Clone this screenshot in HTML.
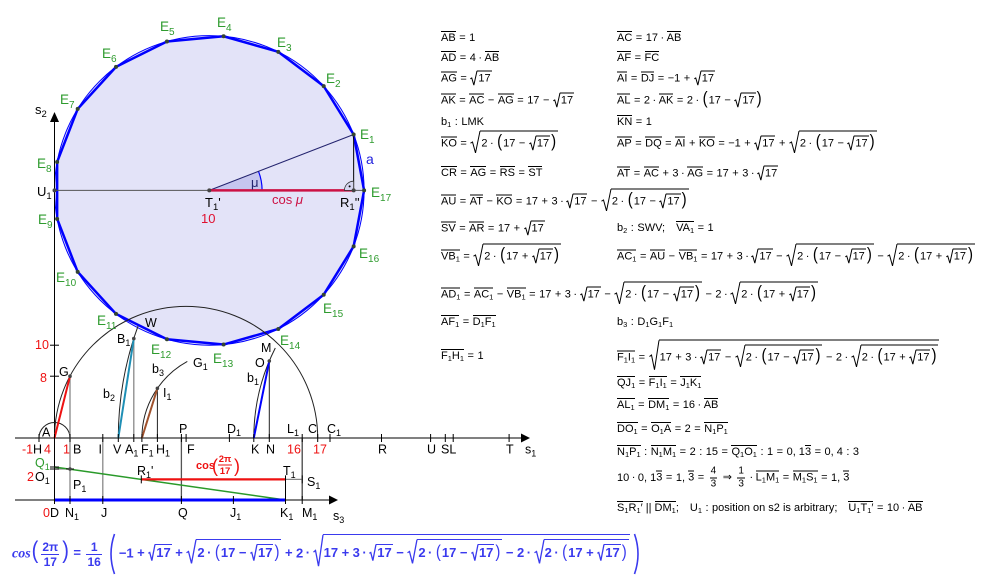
<!DOCTYPE html>
<html><head><meta charset="utf-8"><style>
body{margin:0;width:990px;height:588px;overflow:hidden;background:#fff;position:relative;font-family:"Liberation Sans","DejaVu Sans",sans-serif}
svg.main{position:absolute;left:0;top:0}
.f{position:absolute;white-space:nowrap;font-size:11px;line-height:14px;color:#000;transform:translateY(-50%)}
.ov{display:inline-block;border-top:1px solid currentColor;line-height:12px}
sub{font-size:7.5px;vertical-align:-2px;line-height:0}
i{font-style:normal;padding:0 3.5px}
i.d{padding:0 2.5px}
.r{display:inline-block;position:relative;padding-left:7px}
.r>svg{position:absolute;left:0;top:0;width:7px;height:100%;overflow:visible}
.r>svg path{fill:none;stroke:currentColor;stroke-width:1;vector-effect:non-scaling-stroke}
.r>span{display:inline-block;border-top:1px solid currentColor;padding:0 1px}
.r.R{padding-left:10px}
.r.R>svg{width:10px}
.r.R>span{padding:4px 1px 3px 1px}
.bp{display:inline-block;font-size:15px;line-height:14px;transform:scaleY(1.15);padding:0 1px;font-weight:normal}
.fr{display:inline-block;vertical-align:middle;text-align:center;font-size:10px;line-height:12px;margin:0 2px}
.fr>span{display:block;padding:0 1px}
.fr>span:first-child{border-bottom:1px solid currentColor}
#bf{font-size:13px;font-weight:bold;color:#3a3aee;line-height:16px}
#bf .r>svg path{stroke-width:1.3}
.bq{display:inline-block;font-size:20px;line-height:16px;transform:scaleY(1.2);font-weight:normal;padding:0 1px}
.hp{display:inline-block;vertical-align:middle;margin:0 3px}
.fb{font-size:12px;line-height:14px;font-weight:bold}
</style></head><body>
<svg class="main" width="990" height="588" viewBox="0 0 990 588" font-family="Liberation Sans, DejaVu Sans, sans-serif">
<circle cx="209.3" cy="190.4" r="154.8" fill="#e3e3f8" stroke="#0000ff" stroke-width="1"/>
<polygon points="353.65,134.48 323.70,86.11 278.30,51.83 223.58,36.26 166.94,41.51 116.01,66.87 77.69,108.91 57.14,161.96 57.14,218.84 77.69,271.89 116.01,313.93 166.94,339.29 223.58,344.54 278.30,328.97 323.70,294.69 353.65,246.32 364.10,190.4" fill="none" stroke="#0000ff" stroke-width="2.5" stroke-linejoin="round"/>
<line x1="54.5" y1="190.4" x2="364.1" y2="190.4" stroke="#555" stroke-width="1"/>
<path d="M209.3,190.4 L262.1,190.4 A52.8,52.8 0 0 0 258.5,171.3 Z" fill="#c6c6ef"/>
<path d="M262.1,190.4 A52.8,52.8 0 0 0 258.5,171.3" fill="none" stroke="#0000ff" stroke-width="1.2"/>
<line x1="209.3" y1="190.4" x2="353.65" y2="134.48" stroke="#23236e" stroke-width="1"/>
<line x1="353.65" y1="190.4" x2="353.65" y2="134.48" stroke="#000" stroke-width="1"/>
<line x1="209.3" y1="190.4" x2="353.65" y2="190.4" stroke="#cc1144" stroke-width="2.5"/>
<path d="M344.4,190.4 A9.2,9.2 0 0 1 353.65,181.2 L353.65,190.4 Z" fill="#d5d5f0" stroke="#333" stroke-width="0.8"/>
<circle cx="349.6" cy="186.4" r="1" fill="#000"/>
<line x1="54.5" y1="121" x2="54.5" y2="502" stroke="#000" stroke-width="1"/>
<polygon points="54.5,112 50,122 59,122" fill="#000"/>
<line x1="15" y1="438" x2="522" y2="438" stroke="#000" stroke-width="1"/>
<polygon points="530,438 521,433.5 521,442.5" fill="#000"/>
<line x1="15" y1="500" x2="330" y2="500" stroke="#000" stroke-width="1"/>
<polygon points="338,500 329,495.5 329,504.5" fill="#000"/>
<g stroke="#000" stroke-width="1">
<line x1="50" y1="376.2" x2="59" y2="376.2"/><line x1="50" y1="345.2" x2="59" y2="345.2"/>
</g>
<g fill="none" stroke="#222" stroke-width="1">
<path d="M54.5,438 A131.6,131.6 0 0 1 317.7,438"/>
<path d="M39,438 A15.5,15.5 0 0 1 70,438"/>
<path d="M253.8,438 A199.4,199.4 0 0 1 275.3,348"/>
<path d="M118.3,438 A327,327 0 0 1 138,326.2"/>
<path d="M141.9,438 A87.4,87.4 0 0 1 187.3,361.4"/>
</g>
<g stroke-width="1.3">
<line x1="70" y1="376.2" x2="70" y2="500" stroke="#888"/>
<line x1="102.8" y1="438" x2="102.8" y2="500" stroke="#888"/>
<line x1="133.8" y1="338.6" x2="133.8" y2="438" stroke="#888"/>
<line x1="157.4" y1="388.3" x2="157.4" y2="438" stroke="#222" stroke-width="1"/>
<line x1="181.4" y1="438" x2="181.4" y2="500" stroke="#555"/>
<line x1="269.3" y1="361" x2="269.3" y2="438" stroke="#222" stroke-width="1"/>
<line x1="302.2" y1="438" x2="302.2" y2="500" stroke="#444"/>
<line x1="285.5" y1="479.4" x2="285.5" y2="500" stroke="#000" stroke-width="1"/>
</g>
<line x1="54.5" y1="438" x2="70" y2="376.2" stroke="#ee1111" stroke-width="2"/>
<line x1="118.3" y1="438" x2="133.8" y2="338.6" stroke="#1f8fb5" stroke-width="2"/>
<line x1="141.9" y1="438" x2="157.4" y2="388.3" stroke="#a0522d" stroke-width="2"/>
<line x1="253.8" y1="438" x2="269.3" y2="361" stroke="#0000ff" stroke-width="2"/>
<line x1="54.5" y1="469" x2="70" y2="469" stroke="#888" stroke-width="1.2"/>
<line x1="285.5" y1="479.4" x2="302.2" y2="479.4" stroke="#888" stroke-width="1.2"/>
<line x1="54.5" y1="467" x2="285.5" y2="500" stroke="#2a9a2a" stroke-width="1.5"/>
<line x1="141.3" y1="479.4" x2="285.5" y2="479.4" stroke="#ee1111" stroke-width="2.2"/>
<line x1="54.5" y1="500" x2="285.5" y2="500" stroke="#0000ff" stroke-width="3"/>
<g stroke="#000" stroke-width="1">
<path d="M39,434V442 M54.5,434V442 M70,434V442 M102.8,434V442 M118.3,434V442 M133.8,434V442 M141.9,434V442 M157.4,434V442 M181.4,434V442 M186.1,434V442 M229.4,434V442 M253.8,434V442 M269.3,434V442 M302.2,434V442 M317.7,434V442 M330,434V442 M381.5,434V442 M430.6,434V442 M445.3,434V442 M453.2,434V442 M509.1,434V442"/>
<path d="M54.5,496V504 M70,496V504 M102.8,496V504 M181.4,496V504 M233.4,496V504 M285.5,496V504 M302.2,496V504"/>
<path d="M141.3,475.4V483.4 M285.5,475.4V483.4 M302.2,475.4V483.4 M66,469H74 M50,469H59 M50,467H59"/>
</g>
<g fill="#334433">
<circle cx="353.65" cy="134.48" r="2"/><circle cx="323.70" cy="86.11" r="2"/><circle cx="278.30" cy="51.83" r="2"/><circle cx="223.58" cy="36.26" r="2"/><circle cx="166.94" cy="41.51" r="2"/><circle cx="116.01" cy="66.87" r="2"/><circle cx="77.69" cy="108.91" r="2"/><circle cx="57.14" cy="161.96" r="2"/><circle cx="57.14" cy="218.84" r="2"/><circle cx="77.69" cy="271.89" r="2"/><circle cx="116.01" cy="313.93" r="2"/><circle cx="166.94" cy="339.29" r="2"/><circle cx="223.58" cy="344.54" r="2"/><circle cx="278.30" cy="328.97" r="2"/><circle cx="323.70" cy="294.69" r="2"/><circle cx="353.65" cy="246.32" r="2"/><circle cx="364.1" cy="190.4" r="2"/>
</g>
<g fill="#444">
<circle cx="209.3" cy="190.4" r="2"/><circle cx="353.65" cy="190.4" r="2"/><circle cx="54.5" cy="190.4" r="2"/>
<circle cx="70" cy="376.2" r="1.8"/><circle cx="133.8" cy="338.6" r="1.8"/><circle cx="157.4" cy="388.3" r="1.8"/><circle cx="269.3" cy="361" r="1.8"/><circle cx="70" cy="469" r="1.8"/>
</g>
<g fill="#2e9b2e" font-size="13.5">
<text x="360" y="139">E<tspan font-size="10" dy="4">1</tspan></text>
<text x="326" y="83">E<tspan font-size="10" dy="4">2</tspan></text>
<text x="277" y="47">E<tspan font-size="10" dy="4">3</tspan></text>
<text x="217" y="27">E<tspan font-size="10" dy="4">4</tspan></text>
<text x="160" y="31">E<tspan font-size="10" dy="4">5</tspan></text>
<text x="102" y="58">E<tspan font-size="10" dy="4">6</tspan></text>
<text x="60" y="104">E<tspan font-size="10" dy="4">7</tspan></text>
<text x="37" y="168">E<tspan font-size="10" dy="4">8</tspan></text>
<text x="38" y="224">E<tspan font-size="10" dy="4">9</tspan></text>
<text x="56" y="282">E<tspan font-size="10" dy="4">10</tspan></text>
<text x="97" y="325">E<tspan font-size="10" dy="4">11</tspan></text>
<text x="151" y="354">E<tspan font-size="10" dy="4">12</tspan></text>
<text x="213" y="363">E<tspan font-size="10" dy="4">13</tspan></text>
<text x="280" y="345">E<tspan font-size="10" dy="4">14</tspan></text>
<text x="323" y="313">E<tspan font-size="10" dy="4">15</tspan></text>
<text x="359" y="258">E<tspan font-size="10" dy="4">16</tspan></text>
<text x="371" y="197">E<tspan font-size="10" dy="4">17</tspan></text>
</g>
<g font-size="13" fill="#000">
<text x="35" y="114">s<tspan font-size="9.5" dy="3">2</tspan></text>
<text x="37" y="196">U<tspan font-size="9.5" dy="3">1</tspan></text>
<text x="205" y="207">T<tspan font-size="9.5" dy="3">1</tspan><tspan dy="-3">'</tspan></text>
<text x="340" y="207">R<tspan font-size="9.5" dy="3">1</tspan><tspan dy="-3">''</tspan></text>
<text x="251" y="187" fill="#23236e">μ</text>
<text x="366" y="164" fill="#2222dd" font-size="14">a</text>
<text x="272" y="204" fill="#cc1144">cos <tspan font-style="italic">μ</tspan></text>
<text x="201" y="223" fill="#e01030">10</text>
</g>
<g font-size="12.5" fill="#000">
<text x="42" y="436.5">A</text>
<text x="179" y="433">P</text>
<text x="227" y="433">D<tspan font-size="9" dy="3">1</tspan></text>
<text x="287" y="433">L<tspan font-size="9" dy="3">1</tspan></text>
<text x="308" y="433">C</text>
<text x="327" y="433">C<tspan font-size="9" dy="3">1</tspan></text>
<text x="22" y="453.5" fill="#ee1111">-1</text>
<text x="33" y="453.5">H</text>
<text x="44" y="453.5" fill="#ee1111">4</text>
<text x="63" y="453.5" fill="#ee1111">1</text>
<text x="73" y="453.5">B</text>
<text x="98.5" y="453.5">I</text>
<text x="113" y="453.5">V</text>
<text x="125" y="453.5">A<tspan font-size="9" dy="3">1</tspan></text>
<text x="141" y="453.5">F<tspan font-size="9" dy="3">1</tspan></text>
<text x="156" y="453.5">H<tspan font-size="9" dy="3">1</tspan></text>
<text x="187" y="453.5">F</text>
<text x="251" y="453.5">K</text>
<text x="266" y="453.5">N</text>
<text x="287" y="453.5" fill="#ee1111">16</text>
<text x="313" y="453.5" fill="#ee1111">17</text>
<text x="378" y="453.5">R</text>
<text x="427" y="453.5">U</text>
<text x="441" y="453.5">SL</text>
<text x="506" y="453.5">T</text>
<text x="525" y="453.5">s<tspan font-size="9" dy="3">1</tspan></text>
<text x="35" y="467" fill="#2e9b2e">Q<tspan font-size="9" dy="3">1</tspan></text>
<text x="27" y="481" fill="#ee1111">2</text>
<text x="35" y="481">O<tspan font-size="9" dy="3">1</tspan></text>
<text x="73" y="489">P<tspan font-size="9" dy="3">1</tspan></text>
<text x="137" y="475">R<tspan font-size="9" dy="3">1</tspan><tspan dy="-3">'</tspan></text>
<text x="283" y="475">T<tspan font-size="9" dy="3">1</tspan></text>
<text x="307" y="486">S<tspan font-size="9" dy="3">1</tspan></text>
<text x="43" y="517" fill="#ee1111">0</text>
<text x="50" y="517">D</text>
<text x="65" y="517">N<tspan font-size="9" dy="3">1</tspan></text>
<text x="101" y="517">J</text>
<text x="178" y="517">Q</text>
<text x="230" y="517">J<tspan font-size="9" dy="3">1</tspan></text>
<text x="280" y="517">K<tspan font-size="9" dy="3">1</tspan></text>
<text x="302" y="517">M<tspan font-size="9" dy="3">1</tspan></text>
<text x="333" y="520">s<tspan font-size="9" dy="3">3</tspan></text>
<text x="59" y="376">G</text>
<text x="40" y="382" fill="#ee1111">8</text>
<text x="35" y="349" fill="#ee1111">10</text>
<text x="117" y="343">B<tspan font-size="9" dy="3">1</tspan></text>
<text x="145" y="327">W</text>
<text x="103" y="398">b<tspan font-size="9" dy="3">2</tspan></text>
<text x="152" y="373">b<tspan font-size="9" dy="3">3</tspan></text>
<text x="193" y="367">G<tspan font-size="9" dy="3">1</tspan></text>
<text x="163" y="397">I<tspan font-size="9" dy="3">1</tspan></text>
<text x="261" y="352">M</text>
<text x="255" y="367">O</text>
<text x="247" y="382">b<tspan font-size="9" dy="3">1</tspan></text>
</g>
<g fill="#ee1111" font-weight="bold">
<text x="196" y="469" font-size="11">cos</text>
<text x="212" y="472" font-size="18" font-weight="normal">(</text>
<text x="225" y="462" font-size="9.5" text-anchor="middle">2π</text>
<line x1="218" y1="465" x2="232" y2="465" stroke="#ee1111" stroke-width="1"/>
<text x="225" y="474" font-size="9.5" text-anchor="middle">17</text>
<text x="234" y="472" font-size="18" font-weight="normal">)</text>
</g>
</svg>

<div class="f" style="left:441px;top:38px"><span class="ov">AB</span><i>=</i>1</div>
<div class="f" style="left:617px;top:38px"><span class="ov">AC</span><i>=</i>17<i class="d">·</i><span class="ov">AB</span></div>

<div class="f" style="left:441px;top:58px"><span class="ov">AD</span><i>=</i>4<i class="d">·</i><span class="ov">AB</span></div>
<div class="f" style="left:617px;top:58px"><span class="ov">AF</span><i>=</i><span class="ov">FC</span></div>

<div class="f" style="left:441px;top:78px"><span class="ov">AG</span><i>=</i><span class="r"><svg viewBox="0 0 10 20" preserveAspectRatio="none"><path d="M0.5 11L2.5 10L5.5 19.5L10 0.5"/></svg><span>17</span></span></div>
<div class="f" style="left:617px;top:78px"><span class="ov">AI</span><i>=</i><span class="ov">DJ</span><i>=</i>−1<i>+</i><span class="r"><svg viewBox="0 0 10 20" preserveAspectRatio="none"><path d="M0.5 11L2.5 10L5.5 19.5L10 0.5"/></svg><span>17</span></span></div>

<div class="f" style="left:441px;top:100px"><span class="ov">AK</span><i>=</i><span class="ov">AC</span><i>−</i><span class="ov">AG</span><i>=</i>17<i>−</i><span class="r"><svg viewBox="0 0 10 20" preserveAspectRatio="none"><path d="M0.5 11L2.5 10L5.5 19.5L10 0.5"/></svg><span>17</span></span></div>
<div class="f" style="left:617px;top:100px"><span class="ov">AL</span><i>=</i>2<i class="d">·</i><span class="ov">AK</span><i>=</i>2<i class="d">·</i><span class="bp">(</span>17<i>−</i><span class="r"><svg viewBox="0 0 10 20" preserveAspectRatio="none"><path d="M0.5 11L2.5 10L5.5 19.5L10 0.5"/></svg><span>17</span></span><span class="bp">)</span></div>

<div class="f" style="left:441px;top:122px">b<sub>1</sub><i>:</i>LMK</div>
<div class="f" style="left:617px;top:122px"><span class="ov">KN</span><i>=</i>1</div>

<div class="f" style="left:441px;top:142px"><span class="ov">KO</span><i>=</i><span class="r R"><svg viewBox="0 0 10 20" preserveAspectRatio="none"><path d="M0.5 11L2.5 10L5.5 19.5L10 0.5"/></svg><span>2<i class="d">·</i><span class="bp">(</span>17<i>−</i><span class="r"><svg viewBox="0 0 10 20" preserveAspectRatio="none"><path d="M0.5 11L2.5 10L5.5 19.5L10 0.5"/></svg><span>17</span></span><span class="bp">)</span></span></span></div>
<div class="f" style="left:617px;top:142px"><span class="ov">AP</span><i>=</i><span class="ov">DQ</span><i>=</i><span class="ov">AI</span><i>+</i><span class="ov">KO</span><i>=</i>−1<i>+</i><span class="r"><svg viewBox="0 0 10 20" preserveAspectRatio="none"><path d="M0.5 11L2.5 10L5.5 19.5L10 0.5"/></svg><span>17</span></span><i>+</i><span class="r R"><svg viewBox="0 0 10 20" preserveAspectRatio="none"><path d="M0.5 11L2.5 10L5.5 19.5L10 0.5"/></svg><span>2<i class="d">·</i><span class="bp">(</span>17<i>−</i><span class="r"><svg viewBox="0 0 10 20" preserveAspectRatio="none"><path d="M0.5 11L2.5 10L5.5 19.5L10 0.5"/></svg><span>17</span></span><span class="bp">)</span></span></span></div>

<div class="f" style="left:441px;top:173px"><span class="ov">CR</span><i>=</i><span class="ov">AG</span><i>=</i><span class="ov">RS</span><i>=</i><span class="ov">ST</span></div>
<div class="f" style="left:617px;top:173px"><span class="ov">AT</span><i>=</i><span class="ov">AC</span><i>+</i>3<i class="d">·</i><span class="ov">AG</span><i>=</i>17<i>+</i>3<i class="d">·</i><span class="r"><svg viewBox="0 0 10 20" preserveAspectRatio="none"><path d="M0.5 11L2.5 10L5.5 19.5L10 0.5"/></svg><span>17</span></span></div>

<div class="f" style="left:441px;top:200px"><span class="ov">AU</span><i>=</i><span class="ov">AT</span><i>−</i><span class="ov">KO</span><i>=</i>17<i>+</i>3<i class="d">·</i><span class="r"><svg viewBox="0 0 10 20" preserveAspectRatio="none"><path d="M0.5 11L2.5 10L5.5 19.5L10 0.5"/></svg><span>17</span></span><i>−</i><span class="r R"><svg viewBox="0 0 10 20" preserveAspectRatio="none"><path d="M0.5 11L2.5 10L5.5 19.5L10 0.5"/></svg><span>2<i class="d">·</i><span class="bp">(</span>17<i>−</i><span class="r"><svg viewBox="0 0 10 20" preserveAspectRatio="none"><path d="M0.5 11L2.5 10L5.5 19.5L10 0.5"/></svg><span>17</span></span><span class="bp">)</span></span></span></div>

<div class="f" style="left:441px;top:228px"><span class="ov">SV</span><i>=</i><span class="ov">AR</span><i>=</i>17<i>+</i><span class="r"><svg viewBox="0 0 10 20" preserveAspectRatio="none"><path d="M0.5 11L2.5 10L5.5 19.5L10 0.5"/></svg><span>17</span></span></div>
<div class="f" style="left:617px;top:228px">b<sub>2</sub><i>:</i>SWV;&emsp;<span class="ov">VA<sub>1</sub></span><i>=</i>1</div>

<div class="f" style="left:441px;top:255px"><span class="ov">VB<sub>1</sub></span><i>=</i><span class="r R"><svg viewBox="0 0 10 20" preserveAspectRatio="none"><path d="M0.5 11L2.5 10L5.5 19.5L10 0.5"/></svg><span>2<i class="d">·</i><span class="bp">(</span>17<i>+</i><span class="r"><svg viewBox="0 0 10 20" preserveAspectRatio="none"><path d="M0.5 11L2.5 10L5.5 19.5L10 0.5"/></svg><span>17</span></span><span class="bp">)</span></span></span></div>
<div class="f" style="left:617px;top:255px"><span class="ov">AC<sub>1</sub></span><i>=</i><span class="ov">AU</span><i>−</i><span class="ov">VB<sub>1</sub></span><i>=</i>17<i>+</i>3<i class="d">·</i><span class="r"><svg viewBox="0 0 10 20" preserveAspectRatio="none"><path d="M0.5 11L2.5 10L5.5 19.5L10 0.5"/></svg><span>17</span></span><i>−</i><span class="r R"><svg viewBox="0 0 10 20" preserveAspectRatio="none"><path d="M0.5 11L2.5 10L5.5 19.5L10 0.5"/></svg><span>2<i class="d">·</i><span class="bp">(</span>17<i>−</i><span class="r"><svg viewBox="0 0 10 20" preserveAspectRatio="none"><path d="M0.5 11L2.5 10L5.5 19.5L10 0.5"/></svg><span>17</span></span><span class="bp">)</span></span></span><i>−</i><span class="r R"><svg viewBox="0 0 10 20" preserveAspectRatio="none"><path d="M0.5 11L2.5 10L5.5 19.5L10 0.5"/></svg><span>2<i class="d">·</i><span class="bp">(</span>17<i>+</i><span class="r"><svg viewBox="0 0 10 20" preserveAspectRatio="none"><path d="M0.5 11L2.5 10L5.5 19.5L10 0.5"/></svg><span>17</span></span><span class="bp">)</span></span></span></div>

<div class="f" style="left:441px;top:293px"><span class="ov">AD<sub>1</sub></span><i>=</i><span class="ov">AC<sub>1</sub></span><i>−</i><span class="ov">VB<sub>1</sub></span><i>=</i>17<i>+</i>3<i class="d">·</i><span class="r"><svg viewBox="0 0 10 20" preserveAspectRatio="none"><path d="M0.5 11L2.5 10L5.5 19.5L10 0.5"/></svg><span>17</span></span><i>−</i><span class="r R"><svg viewBox="0 0 10 20" preserveAspectRatio="none"><path d="M0.5 11L2.5 10L5.5 19.5L10 0.5"/></svg><span>2<i class="d">·</i><span class="bp">(</span>17<i>−</i><span class="r"><svg viewBox="0 0 10 20" preserveAspectRatio="none"><path d="M0.5 11L2.5 10L5.5 19.5L10 0.5"/></svg><span>17</span></span><span class="bp">)</span></span></span><i>−</i>2<i class="d">·</i><span class="r R"><svg viewBox="0 0 10 20" preserveAspectRatio="none"><path d="M0.5 11L2.5 10L5.5 19.5L10 0.5"/></svg><span>2<i class="d">·</i><span class="bp">(</span>17<i>+</i><span class="r"><svg viewBox="0 0 10 20" preserveAspectRatio="none"><path d="M0.5 11L2.5 10L5.5 19.5L10 0.5"/></svg><span>17</span></span><span class="bp">)</span></span></span></div>

<div class="f" style="left:441px;top:322px"><span class="ov">AF<sub>1</sub></span><i>=</i><span class="ov">D<sub>1</sub>F<sub>1</sub></span></div>
<div class="f" style="left:617px;top:322px">b<sub>3</sub><i>:</i>D<sub>1</sub>G<sub>1</sub>F<sub>1</sub></div>

<div class="f" style="left:441px;top:356px"><span class="ov">F<sub>1</sub>H<sub>1</sub></span><i>=</i>1</div>
<div class="f" style="left:617px;top:355px"><span class="ov">F<sub>1</sub>I<sub>1</sub></span><i>=</i><span class="r R"><svg viewBox="0 0 10 20" preserveAspectRatio="none"><path d="M0.5 11L2.5 10L5.5 19.5L10 0.5"/></svg><span>17<i>+</i>3<i class="d">·</i><span class="r"><svg viewBox="0 0 10 20" preserveAspectRatio="none"><path d="M0.5 11L2.5 10L5.5 19.5L10 0.5"/></svg><span>17</span></span><i>−</i><span class="r R"><svg viewBox="0 0 10 20" preserveAspectRatio="none"><path d="M0.5 11L2.5 10L5.5 19.5L10 0.5"/></svg><span>2<i class="d">·</i><span class="bp">(</span>17<i>−</i><span class="r"><svg viewBox="0 0 10 20" preserveAspectRatio="none"><path d="M0.5 11L2.5 10L5.5 19.5L10 0.5"/></svg><span>17</span></span><span class="bp">)</span></span></span><i>−</i>2<i class="d">·</i><span class="r R"><svg viewBox="0 0 10 20" preserveAspectRatio="none"><path d="M0.5 11L2.5 10L5.5 19.5L10 0.5"/></svg><span>2<i class="d">·</i><span class="bp">(</span>17<i>+</i><span class="r"><svg viewBox="0 0 10 20" preserveAspectRatio="none"><path d="M0.5 11L2.5 10L5.5 19.5L10 0.5"/></svg><span>17</span></span><span class="bp">)</span></span></span></span></span></div>

<div class="f" style="left:617px;top:383px"><span class="ov">QJ<sub>1</sub></span><i>=</i><span class="ov">F<sub>1</sub>I<sub>1</sub></span><i>=</i><span class="ov">J<sub>1</sub>K<sub>1</sub></span></div>
<div class="f" style="left:617px;top:405px"><span class="ov">AL<sub>1</sub></span><i>=</i><span class="ov">DM<sub>1</sub></span><i>=</i>16<i class="d">·</i><span class="ov">AB</span></div>
<div class="f" style="left:617px;top:429px"><span class="ov">DO<sub>1</sub></span><i>=</i><span class="ov">O<sub>1</sub>A</span><i>=</i>2<i>=</i><span class="ov">N<sub>1</sub>P<sub>1</sub></span></div>
<div class="f" style="left:617px;top:452px"><span class="ov">N<sub>1</sub>P<sub>1</sub></span><i>:</i><span class="ov">N<sub>1</sub>M<sub>1</sub></span><i>=</i>2<i>:</i>15<i>=</i><span class="ov">Q<sub>1</sub>O<sub>1</sub></span><i>:</i>1<i>=</i>0, 1<span class="ov">3</span><i>=</i>0, 4<i>:</i>3</div>
<div class="f" style="left:617px;top:478px">10<i class="d">·</i>0, 1<span class="ov">3</span><i>=</i>1, <span class="ov">3</span><i>=</i><span class="fr"><span>4</span><span>3</span></span><i>⇒</i><span class="fr"><span>1</span><span>3</span></span><i class="d">·</i><span class="ov">L<sub>1</sub>M<sub>1</sub></span><i>=</i><span class="ov">M<sub>1</sub>S<sub>1</sub></span><i>=</i>1, <span class="ov">3</span></div>
<div class="f" style="left:617px;top:508px"><span class="ov">S<sub>1</sub>R<sub>1</sub>′</span> || <span class="ov">DM<sub>1</sub></span>;&emsp;U<sub>1</sub><i>:</i>position on s2 is arbitrary;&emsp;<span class="ov">U<sub>1</sub>T<sub>1</sub>′</span><i>=</i>10<i class="d">·</i><span class="ov">AB</span></div>

<div class="f" id="bf" style="left:12px;top:554px"><span style="font-family:'Liberation Serif',serif;font-style:italic;font-size:14px">cos</span><span class="bq">(</span><span class="fr fb"><span>2π</span><span>17</span></span><span class="bq">)</span><i>=</i><span class="fr fb"><span>1</span><span>16</span></span><svg class="hp" width="9" height="42" viewBox="0 0 9 42"><path d="M7.5 1 Q0.5 21 7.5 41" fill="none" stroke="currentColor" stroke-width="1.6"/></svg>−1<i>+</i><span class="r"><svg viewBox="0 0 10 20" preserveAspectRatio="none"><path d="M0.5 11L2.5 10L5.5 19.5L10 0.5"/></svg><span>17</span></span><i>+</i><span class="r R"><svg viewBox="0 0 10 20" preserveAspectRatio="none"><path d="M0.5 11L2.5 10L5.5 19.5L10 0.5"/></svg><span>2<i class="d">·</i><span class="bp">(</span>17<i>−</i><span class="r"><svg viewBox="0 0 10 20" preserveAspectRatio="none"><path d="M0.5 11L2.5 10L5.5 19.5L10 0.5"/></svg><span>17</span></span><span class="bp">)</span></span></span><i>+</i>2<i class="d">·</i><span class="r R"><svg viewBox="0 0 10 20" preserveAspectRatio="none"><path d="M0.5 11L2.5 10L5.5 19.5L10 0.5"/></svg><span>17<i>+</i>3<i class="d">·</i><span class="r"><svg viewBox="0 0 10 20" preserveAspectRatio="none"><path d="M0.5 11L2.5 10L5.5 19.5L10 0.5"/></svg><span>17</span></span><i>−</i><span class="r R"><svg viewBox="0 0 10 20" preserveAspectRatio="none"><path d="M0.5 11L2.5 10L5.5 19.5L10 0.5"/></svg><span>2<i class="d">·</i><span class="bp">(</span>17<i>−</i><span class="r"><svg viewBox="0 0 10 20" preserveAspectRatio="none"><path d="M0.5 11L2.5 10L5.5 19.5L10 0.5"/></svg><span>17</span></span><span class="bp">)</span></span></span><i>−</i>2<i class="d">·</i><span class="r R"><svg viewBox="0 0 10 20" preserveAspectRatio="none"><path d="M0.5 11L2.5 10L5.5 19.5L10 0.5"/></svg><span>2<i class="d">·</i><span class="bp">(</span>17<i>+</i><span class="r"><svg viewBox="0 0 10 20" preserveAspectRatio="none"><path d="M0.5 11L2.5 10L5.5 19.5L10 0.5"/></svg><span>17</span></span><span class="bp">)</span></span></span></span></span><svg class="hp" width="9" height="42" viewBox="0 0 9 42"><path d="M1.5 1 Q8.5 21 1.5 41" fill="none" stroke="currentColor" stroke-width="1.6"/></svg></div>
</body></html>
